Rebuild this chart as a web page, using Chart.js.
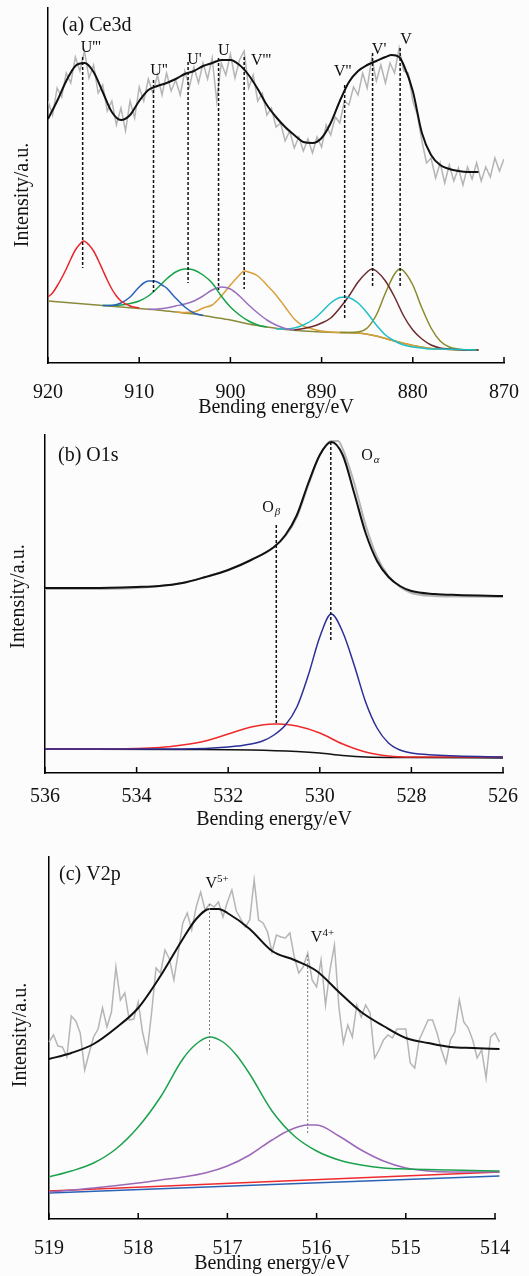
<!DOCTYPE html>
<html>
<head>
<meta charset="utf-8">
<script src="https://cdn.jsdelivr.net/npm/chart.js@4.4.1/dist/chart.umd.min.js"></script>
<style>
  html, body { margin: 0; padding: 0; background: #fcfcfc; }
  #wrap { position: relative; width: 529px; height: 1276px; overflow: hidden; }
  canvas { position: absolute; left: 0; }
</style>
</head>
<body>
<div id="wrap">
  <canvas id="ce" width="529" height="420" style="top:0"></canvas>
  <canvas id="o1s" width="529" height="412" style="top:420px"></canvas>
  <canvas id="v2p" width="529" height="456" style="top:820px"></canvas>
</div>
<script>
// ---- (a) Ce3d ----
const ceRawE = [920, 919.5, 919, 918.5, 918, 917.5, 917, 916.5, 916, 915.5, 915, 914.5, 914, 913.5, 913, 912.5, 912, 911.5, 911, 910.5,
  910, 909.5, 909, 908.5, 908, 907.5, 907, 906.5, 906, 905.5, 905, 904.5, 904, 903.5, 903, 902.5, 902, 901.5, 901, 900.5,
  900, 899.5, 899, 898.5, 898, 897.5, 897, 896.5, 896, 895.5, 895, 894.5, 894, 893.5, 893, 892.5, 892, 891.5, 891, 890.5,
  890, 889.5, 889, 888.5, 888, 887.5, 887, 886.5, 886, 885.5, 885, 884.5, 884, 883.5, 883, 882.5, 882, 881.5, 881, 880.5,
  880, 879.5, 879, 878.5, 878, 877.5, 877, 876.5, 876, 875.5, 875, 874.5, 874, 873.5, 873, 872.5, 872, 871.5, 871, 870.5, 870];
const ceRaw = [262, 248, 275, 266, 290, 280, 306, 292, 312, 285, 298, 270, 278, 252, 262, 238, 255, 232, 262, 245,
  276, 262, 284, 270, 288, 268, 290, 272, 283, 268, 292, 276, 296, 280, 300, 284, 305, 262, 300, 288,
  309, 285, 303, 312, 275, 288, 262, 270, 248, 255, 236, 240, 222, 232, 215, 226, 212, 224, 210, 226,
  216, 238, 228, 246, 240, 262, 258, 276, 268, 290, 275, 305, 282, 298, 280, 300, 290, 315, 292, 290,
  262, 248, 222, 200, 205, 185, 200, 180, 198, 182, 195, 178, 196, 184, 200, 182, 196, 186, 205, 192, 204];

const ceFitE = [920, 919, 918, 917, 916, 915, 914, 913, 912, 911, 910, 909, 908, 907, 906, 905, 904, 903, 902, 901,
  900, 899, 898, 897, 896, 895, 894, 893, 892, 891, 890, 889, 888, 887, 886, 885, 884, 883,
  882.3, 881.5, 881, 880, 879, 878, 877, 876, 875, 874, 872.8];
const ceFit = [244, 262, 282, 297, 300, 291, 271, 251, 243, 248, 262, 273, 277, 280, 284, 289, 292, 297, 300, 303,
  303, 298, 288, 274, 258, 246, 236, 228, 221, 220, 225, 240, 262, 281, 292, 298, 302, 306,
  308, 306, 298, 272, 230, 208, 198, 194, 192, 191, 191];

const ceBgE = [920, 918, 916, 914, 912, 910, 908, 906, 904, 902, 900, 898, 896, 894, 892, 890, 888, 886, 884, 882, 880, 878, 876, 874, 872.8];
const ceBg = [62, 60.5, 59, 57.5, 56, 54.5, 53, 51, 49, 46, 43, 39, 36, 33.5, 32, 31, 30.5, 30, 27, 22, 17.5, 14.5, 13.5, 13, 13];

const ceRedE = [920, 919.5, 919, 918.5, 918, 917.5, 917, 916.5, 916.1, 915.5, 915, 914.5, 914, 913.5, 913, 912.5, 912, 911, 910];
const ceRed = [66, 70, 77, 85, 94, 104, 113, 119, 122, 118, 112, 103, 93, 83, 74, 67, 62, 57, 55];

const ceBlueE = [914, 913, 912, 911, 910.5, 910, 909.5, 909, 908.5, 908, 907.5, 907, 906.5, 906, 905, 904, 903];
const ceBlue = [57.5, 57.5, 60, 66, 71, 76, 80, 82, 82, 81, 78, 75, 70, 65, 56, 50, 47.5];

const ceGreenE = [914, 912, 911, 910, 909, 908, 907, 906, 905, 904.7, 904, 903, 902, 901, 900, 899, 898, 897, 896];
const ceGreen = [57.5, 58, 59.5, 62, 67, 75, 84, 91, 94, 94, 93, 88, 80, 67, 56, 48, 42, 38, 36];

const cePurpleE = [909, 908, 907, 906, 905, 904, 903, 902, 901, 900, 899, 898, 897, 896, 895, 894, 893];
const cePurple = [53.5, 54, 55, 57, 59, 62, 67, 73, 76, 74, 67, 58, 50, 43, 38, 34.5, 33];

const ceOrangeE = [906, 905, 904, 903, 902, 901, 900, 899, 898.5, 898, 897, 896, 895, 894, 893, 892, 891, 890, 888, 886, 884, 882, 880, 878, 876, 874, 872.8];
const ceOrange = [51, 50.5, 51, 55, 58, 67, 78, 88, 92, 91, 87, 78, 68, 56, 44, 37, 34, 32, 30.5, 30, 27, 22, 17.5, 14.5, 13.5, 13, 13];

const ceCyanE = [895, 894, 893, 892, 891, 890, 889, 888, 887.4, 887, 886, 885, 884, 883, 882, 881, 880, 879, 878, 877, 875, 873];
const ceCyan = [34, 34, 35, 38, 43, 51, 60, 65.5, 66, 65.5, 60, 50, 38, 28, 22, 18, 16, 15, 14, 14, 13.5, 13];

const ceBrownE = [893, 892, 891, 890, 889, 888, 887, 886, 885, 884.5, 884, 883, 882, 881, 880, 879, 878, 877, 876, 874, 872.8];
const ceBrown = [33, 34.5, 36.5, 40, 45, 55, 67, 81, 91, 94, 92, 82, 66, 47, 33, 24, 18, 15, 14, 13, 13];

const ceOliveE = [888, 887, 886, 885, 884, 883, 882, 881.4, 881, 880, 879, 878, 877, 876, 875, 874, 872.8];
const ceOlive = [30.5, 30.5, 31, 35, 48, 70, 89, 94, 92, 78, 55, 35, 22, 16, 14, 13, 13];

const ceLineE = [916.2, 908.43, 904.64, 901.3, 898.49, 887.47, 884.41, 881.39];
const ceLineTop = [306, 283, 301, 305, 306, 278, 310, 315];
const ceLineBot = [95, 71, 80, 73, 74, 45, 75, 77];

const ceLabels = ["U'''", "U''", "U'", "U", "V'''", "V''", "V'", "V"];
const ceLabelE = [915.31, 907.83, 903.95, 900.73, 896.64, 887.69, 883.7, 880.75];
const ceLabelH = [315.5, 292, 303.5, 312, 302.5, 291.5, 313, 323.5];

// ---- (b) O1s ----
const oRawE = [536, 535, 534, 533.5, 533, 532.5, 532, 531.5, 531, 530.75, 530.5, 530.25, 530, 529.75, 529.6, 529.5, 529.25, 529, 528.75, 528.5, 528.25, 528, 527.5, 527, 526];
const oRaw = [184, 184, 185, 187, 190, 196, 203, 213, 226, 237, 256, 288, 318, 332, 332, 324, 290, 248, 216, 197, 186, 180, 177, 176.5, 176];

const oFitE = [536, 535, 534, 533.5, 533, 532.5, 532, 531.5, 531, 530.75, 530.5, 530.25, 530, 529.75, 529.5, 529.25, 529, 528.75, 528.5, 528.25, 528, 527.5, 527, 526];
const oFit = [185, 185, 186, 187, 190, 196, 203, 213, 226, 238, 258, 290, 318, 331, 318, 280, 240, 212, 196, 187, 182, 179, 178, 177];

const oAlphaE = [536, 533, 532, 531.5, 531.25, 531, 530.75, 530.5, 530.25, 530, 529.75, 529.5, 529.25, 529, 528.75, 528.5, 528.25, 528, 527.5, 527, 526];
const oAlpha = [24, 24, 26, 29, 32, 38, 48, 66, 98, 136, 159, 141, 108, 71, 45, 30, 23, 20, 18, 17, 16];

const oBetaE = [536, 535, 534, 533.5, 533, 532.5, 532, 531.5, 531, 530.9, 530.5, 530, 529.5, 529, 528.5, 528, 527, 526];
const oBeta = [24, 24, 24.5, 25.5, 28, 32, 39, 46, 49, 49, 47, 40, 29, 21, 17, 16, 16, 16];

const oBgE = [536, 533, 531.5, 530.5, 530, 529.5, 529, 528, 526];
const oBg = [24, 23.5, 23, 21.5, 20, 17.5, 16, 15.5, 15];

const oLineE = [529.76, 530.95];
const oLineTop = [331, 248];
const oLineBot = [133, 49];

// ---- (c) V2p ----
const vRawE = [519, 518.95, 518.9, 518.85, 518.8, 518.75, 518.7, 518.65, 518.6, 518.55, 518.5, 518.45, 518.4, 518.35, 518.3, 518.25, 518.2,
  518.15, 518.1, 518.05, 518, 517.95, 517.9, 517.85, 517.8, 517.75, 517.7, 517.65, 517.6, 517.55, 517.5, 517.45, 517.4, 517.35,
  517.3, 517.25, 517.2, 517.15, 517.1, 517.05, 517, 516.95, 516.9, 516.85, 516.8, 516.75, 516.7, 516.65, 516.6, 516.55, 516.5,
  516.45, 516.4, 516.35, 516.3, 516.25, 516.2, 516.15, 516.1, 516.05, 516, 515.95, 515.9, 515.85, 515.8, 515.75, 515.7, 515.65,
  515.6, 515.55, 515.5, 515.45, 515.4, 515.35, 515.3, 515.25, 515.2, 515.15, 515.1, 515.05, 515, 514.95, 514.9, 514.85, 514.8,
  514.75, 514.7, 514.65, 514.6, 514.55, 514.5, 514.45, 514.4, 514.35, 514.3, 514.25, 514.2, 514.15, 514.1, 514.05, 514, 513.95];
const vRaw = [177, 184, 173, 172, 162, 203, 198, 186, 149, 166, 182, 190, 211, 192, 207, 252, 219,
  226, 199, 200, 217, 186, 167, 206, 251, 246, 269, 260, 239, 267, 296, 306, 289, 312,
  327, 309, 315, 312, 317, 302, 317, 329, 308, 300, 292, 299, 339, 299, 296, 287, 267,
  284, 282, 281, 286, 262, 246, 252, 266, 239, 232, 259, 214, 249, 274, 212, 176, 194,
  182, 214, 202, 214, 206, 161, 169, 179, 184, 181, 190, 190, 190, 156, 151, 179, 189,
  199, 199, 186, 169, 156, 179, 187, 219, 197, 191, 179, 161, 169, 141, 182, 186, 177];

const vFitE = [519, 518.75, 518.5, 518.25, 518, 517.75, 517.5, 517.35, 517.2, 517.1, 517, 516.75, 516.5, 516.25, 516, 515.75, 515.5, 515.25, 515, 514.75, 514.5, 514.25, 513.95];
const vFit = [160, 166, 175, 191, 211, 243, 280, 300, 310, 310, 306, 290, 268, 259, 248, 227, 207, 193, 181, 176, 172, 171, 170];

const v5E = [519, 518.75, 518.5, 518.25, 518, 517.75, 517.5, 517.35, 517.2, 517.05, 516.9, 516.75, 516.5, 516.25, 516, 515.75, 515.5, 515.25, 515, 514.5, 513.95];
const v5 = [42, 48, 56, 70, 92, 122, 160, 175, 182, 177, 164, 145, 108, 83, 68, 59, 54, 51, 50, 49, 48];

const v4E = [519, 518.5, 518, 517.75, 517.5, 517.25, 517, 516.75, 516.5, 516.3, 516.1, 516, 515.75, 515.5, 515.25, 515, 514.75, 514.5, 513.95];
const v4 = [27, 31, 36, 39, 42, 46, 53, 64, 79, 89, 94, 94, 83, 69, 58, 51, 48, 47, 47];

const vRedE = [519, 516.5, 513.95];
const vRed = [28, 37.5, 47];
const vBlueE = [519, 516.5, 513.95];
const vBlue = [26, 34.5, 43];

const vLineE = [517.2, 516.1];
const vLineTop = [315, 264];
const vLineBot = [167, 86];

// ---- drawing ----
const SERIF = "'Liberation Serif', 'Times New Roman', serif";

function pts(xs, ys) {
    return xs.map((x, i) => ({ x: x, y: ys[i] }));
}

function curve(xs, ys, color, width, smooth, clip) {
    return {
        data: pts(xs, ys),
        borderColor: color,
        borderWidth: width,
        pointRadius: 0,
        fill: false,
        tension: 0,
        cubicInterpolationMode: smooth ? 'monotone' : 'default',
        clip: clip
    };
}

function dashLines(es, tops, bots, color, width, dash) {
    return es.map((e, i) => ({
        data: [{ x: e, y: tops[i] }, { x: e, y: bots[i] }],
        borderColor: color,
        borderWidth: width,
        borderDash: dash,
        pointRadius: 0,
        tension: 0,
        fill: false
    }));
}

// inward tick marks, panel title, y title and peak labels
function decor(o) {
    return {
        id: 'decor',
        afterDraw(chart) {
            const { ctx, chartArea, scales } = chart;
            const x = scales.x, y = scales.y;
            ctx.save();
            ctx.strokeStyle = '#000';
            ctx.lineWidth = 1.5;
            x.ticks.forEach(t => {
                const px = x.getPixelForValue(t.value);
                ctx.beginPath();
                ctx.moveTo(px, chartArea.bottom);
                ctx.lineTo(px, chartArea.bottom - 6);
                ctx.stroke();
            });

            ctx.fillStyle = '#111';
            ctx.textBaseline = 'middle';
            ctx.textAlign = 'left';
            ctx.font = '20px ' + SERIF;
            ctx.fillText(o.panel, o.panelX, o.panelY);

            ctx.save();
            ctx.translate(o.yTitleX, o.yTitleY);
            ctx.rotate(-Math.PI / 2);
            ctx.textAlign = 'center';
            ctx.fillText('Intensity/a.u.', 0, 0);
            ctx.restore();

            o.labels.forEach(l => {
                const px = x.getPixelForValue(l.e);
                const py = y.getPixelForValue(l.h);
                ctx.font = '16px ' + SERIF;
                const w = ctx.measureText(l.text).width;
                ctx.textAlign = 'center';
                ctx.fillText(l.text, px, py);
                ctx.textAlign = 'left';
                if (l.sup) {
                    ctx.font = '11px ' + SERIF;
                    ctx.fillText(l.sup, px + w / 2, py - 4);
                }
                if (l.sub) {
                    ctx.font = 'italic 11px ' + SERIF;
                    ctx.fillText(l.sub, px + w / 2 + 1, py + 4);
                }
            });
            ctx.restore();
        }
    };
}

function options(o) {
    const font = { family: SERIF, size: 20 };
    return {
        responsive: false,
        animation: false,
        events: [],
        layout: { padding: { left: 0, right: o.right, top: o.top, bottom: 0 } },
        plugins: { legend: { display: false }, tooltip: { enabled: false } },
        scales: {
            x: {
                type: 'linear',
                reverse: true,
                min: o.min,
                max: o.max,
                ticks: { stepSize: o.step, color: '#111', padding: o.tickPad, font: font, maxRotation: 0, autoSkip: false },
                grid: { display: false },
                border: { display: true, color: '#000', width: 1.5 },
                title: { display: true, text: 'Bending energy/eV', color: '#111', font: font, padding: 0 },
                afterFit(s) { s.height = o.xh; }
            },
            y: {
                type: 'linear',
                min: 0,
                max: o.ymax,
                ticks: { display: false },
                grid: { display: false },
                border: { display: true, color: '#000', width: 1.5 },
                afterFit(s) { s.width = o.yw; }
            }
        }
    };
}

// (a)
new Chart(document.getElementById('ce'), {
    type: 'line',
    data: {
        datasets: [
            ...dashLines(ceLineE, ceLineTop, ceLineBot, '#111', 1.5, [3, 2]),
            curve(ceFitE, ceFit, '#111', 2, true, 0),
            curve(ceRedE, ceRed, '#e8252b', 1.5, true, 0),
            curve(ceBlueE, ceBlue, '#2b63b8', 1.5, true, 0),
            curve(ceGreenE, ceGreen, '#17a34a', 1.5, true, 0),
            curve(cePurpleE, cePurple, '#9b6fbf', 1.5, true, 0),
            curve(ceCyanE, ceCyan, '#1fbfc9', 1.5, true, 0),
            curve(ceBrownE, ceBrown, '#6e2b2e', 1.5, true, 0),
            curve(ceOliveE, ceOlive, '#8a8a2e', 1.5, true, 0),
            curve(ceOrangeE, ceOrange, '#d9a03a', 1.5, true, 0),
            curve(ceBgE, ceBg, '#8a8a3c', 1.5, true, 0),
            curve(ceRawE, ceRaw, '#b5b5b5', 1.5, false, 0)
        ]
    },
    options: options({ min: 870, max: 920, step: 10, ymax: 355, top: 8, right: 23, xh: 57, yw: 48, tickPad: 10 }),
    plugins: [decor({
        panel: '(a) Ce3d', panelX: 62, panelY: 25.5, yTitleX: 22.5, yTitleY: 195,
        labels: ceLabels.map((t, i) => ({ text: t, e: ceLabelE[i], h: ceLabelH[i] }))
    })]
});

// (b)
new Chart(document.getElementById('o1s'), {
    type: 'line',
    data: {
        datasets: [
            ...dashLines(oLineE, oLineTop, oLineBot, '#111', 1.5, [3, 2]),
            curve(oFitE, oFit, '#111', 2, true, 4),
            curve(oRawE, oRaw, '#b5b5b5', 2, true, 4),
            curve(oAlphaE, oAlpha, '#2c2f98', 1.5, true, 4),
            curve(oBetaE, oBeta, '#ee2a2a', 1.5, true, 4),
            curve(oBgE, oBg, '#111', 1.5, true, 4)
        ]
    },
    options: options({ min: 526, max: 536, step: 2, ymax: 338, top: 15, right: 26, xh: 59, yw: 45, tickPad: 4 }),
    plugins: [decor({
        panel: '(b) O1s', panelX: 58, panelY: 35.5, yTitleX: 18.5, yTitleY: 176.5,
        labels: [
            { text: 'O', sub: '\u03b1', e: 528.97, h: 317 },
            { text: 'O', sub: '\u03b2', e: 531.13, h: 265 }
        ]
    })]
});

// (c)
new Chart(document.getElementById('v2p'), {
    type: 'line',
    data: {
        datasets: [
            ...dashLines(vLineE, vLineTop, vLineBot, '#777', 1, [2, 2]),
            curve(vFitE, vFit, '#111', 2, true, 8),
            curve(v5E, v5, '#1ba24d', 1.5, true, 8),
            curve(v4E, v4, '#9c68b8', 1.5, true, 8),
            curve(vRedE, vRed, '#ee2b2e', 1.5, false, 8),
            curve(vBlueE, vBlue, '#2a62b5', 1.5, false, 8),
            curve(vRawE, vRaw, '#b5b5b5', 1.5, false, 8)
        ]
    },
    options: options({ min: 514, max: 519, step: 1, ymax: 362, top: 37, right: 34, xh: 57, yw: 49, tickPad: 10 }),
    plugins: [decor({
        panel: '(c) V2p', panelX: 59, panelY: 55, yTitleX: 21, yTitleY: 215,
        labels: [
            { text: 'V', sup: '5+', e: 517.18, h: 335.5 },
            { text: 'V', sup: '4+', e: 516.0, h: 281.5 }
        ]
    })]
});
</script>
</body>
</html>
